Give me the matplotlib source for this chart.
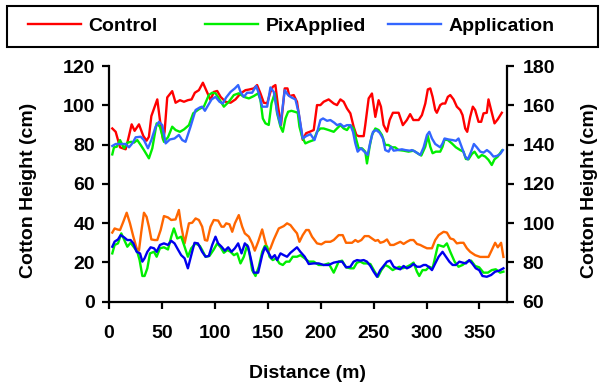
# -*- coding: utf-8 -*-
"""
Cotton height along the transect: Control / PixApplied / Application
"""

#_____________________________________________________
#IMPORTS

from matplotlib import pyplot as plt
from matplotlib.patches import Rectangle

#_____________________________________________________
#DATA

# upper group, left axis (cm)
control_x = [3.1, 6.3, 10.4, 15.7, 17.3, 21.4, 24.2, 28.3, 32.4, 35.5,
             37.7, 40.0, 45.6, 48.1, 51.0, 52.5, 55.0, 59.7, 62.9, 67.0,
             70.8, 74.5, 78.0, 81.1, 84.9, 88.7, 91.8, 95.9, 99.0, 102.2,
             105.4, 110.0, 114.8, 119.5, 124.2, 128.9, 132.0, 136.8, 139.9, 143.1,
             146.2, 149.4, 152.5, 154.7, 157.2, 159.7, 162.5, 166.0, 168.6, 170.4,
             174.5, 177.6, 179.9, 183.0, 186.2, 189.6, 193.4, 196.5, 199.7, 202.8,
             207.5, 212.3, 215.4, 218.6, 221.7, 224.8, 228.0, 231.1, 233.7, 235.8,
             240.6, 242.1, 245.3, 248.4, 251.6, 254.7, 256.9, 259.4, 262.6, 265.1,
             268.2, 273.6, 277.6, 281.4, 284.5, 287.5, 292.5, 295.6, 298.8, 301.2,
             303.5, 305.7, 308.2, 309.7, 312.9, 315.1, 317.6, 320.1, 322.4, 325.5,
             328.6, 331.8, 334.0, 336.5, 338.4, 341.2, 343.7, 345.9, 349.1, 351.6,
             353.8, 356.9, 358.5, 361.0, 364.2, 367.3, 371.1]
control_y = [88.2, 86.5, 78.6, 77.6, 80.9, 90.3, 87.0, 90.3, 84.4, 82.0,
             84.0, 94.5, 103.0, 92.5, 82.6, 86.5, 104.0, 107.2, 101.3, 102.6,
             101.8, 102.6, 103.0, 106.4, 107.7, 111.5, 107.7, 102.7, 106.8, 107.3,
             104.3, 101.8, 101.3, 103.0, 106.0, 107.7, 108.0, 108.6, 110.3, 106.0,
             101.3, 101.0, 106.8, 109.4, 110.3, 99.3, 90.0, 108.6, 108.6, 104.7,
             105.2, 101.8, 93.3, 82.4, 85.8, 86.5, 87.4, 100.1, 100.1, 101.8,
             103.0, 100.9, 100.1, 103.0, 101.8, 98.4, 95.9, 89.1, 84.9, 84.3,
             84.3, 90.0, 103.5, 106.0, 94.1, 102.6, 99.3, 90.0, 86.6, 92.5,
             96.2, 96.2, 89.9, 92.5, 95.5, 92.5, 92.5, 95.0, 100.9, 108.1,
             108.6, 104.3, 97.6, 96.2, 100.1, 100.9, 100.9, 104.3, 105.2, 103.0,
             99.3, 97.6, 95.0, 88.2, 86.5, 94.1, 99.3, 97.6, 91.6, 91.6,
             95.9, 96.2, 103.0, 97.6, 90.8, 92.9, 96.2]

pix_x = [3.1, 4.7, 7.3, 10.4, 14.2, 17.3, 21.1, 23.6, 26.7, 29.9,
         33.0, 37.7, 40.9, 45.0, 48.1, 51.9, 55.7, 59.7, 62.9, 67.0,
         70.8, 75.5, 79.5, 84.9, 89.6, 94.3, 97.5, 100.6, 103.8, 108.5,
         113.2, 117.9, 122.6, 127.4, 132.1, 136.8, 140.9, 143.1, 145.3, 147.8,
         150.9, 153.5, 156.6, 158.8, 162.0, 164.2, 166.7, 169.2, 172.3, 175.5,
         178.3, 179.9, 182.4, 185.5, 188.7, 193.4, 196.5, 199.7, 202.8, 207.5,
         212.3, 215.4, 218.6, 221.7, 224.8, 228.0, 231.1, 233.7, 235.8, 239.0,
         242.1, 243.7, 246.2, 248.4, 251.6, 254.7, 257.8, 260.9, 264.0, 267.2,
         270.3, 273.6, 278.3, 283.0, 287.7, 292.5, 295.0, 298.8, 301.2, 303.5,
         305.7, 308.8, 312.9, 315.1, 317.0, 320.1, 323.9, 327.7, 331.8, 334.9,
         337.1, 339.6, 342.8, 345.3, 349.1, 352.2, 355.4, 358.5, 361.6, 364.2,
         367.3, 371.1]
pix_y = [75.0, 78.6, 78.9, 82.3, 78.1, 81.0, 81.4, 81.0, 82.3, 79.8,
         77.2, 73.0, 78.1, 90.8, 89.1, 81.4, 83.7, 89.1, 87.4, 86.5,
         87.7, 89.9, 95.9, 98.0, 99.3, 105.2, 106.4, 106.1, 103.5, 99.3,
         101.8, 105.2, 106.1, 104.3, 103.5, 104.7, 106.1, 102.6, 93.3, 90.8,
         90.0, 101.0, 106.1, 95.9, 89.1, 86.5, 93.3, 96.7, 97.2, 96.7,
         96.2, 89.1, 84.0, 80.6, 81.4, 82.3, 86.5, 88.2, 88.2, 87.4,
         86.5, 88.2, 89.9, 88.2, 87.4, 89.9, 88.2, 82.3, 78.1, 78.1,
         76.4, 70.4, 78.9, 84.9, 88.2, 87.4, 84.9, 79.8, 79.8, 78.6,
         78.6, 77.2, 76.9, 76.4, 76.9, 75.2, 74.4, 78.9, 84.4, 78.9,
         75.6, 76.4, 76.4, 78.9, 82.6, 82.3, 80.6, 78.6, 77.2, 76.4,
         72.7, 72.5, 75.2, 76.4, 73.3, 74.7, 73.9, 72.2, 69.6, 72.5,
         73.9, 76.9]

appl_x = [3.1, 6.3, 11.0, 15.7, 18.9, 22.0, 25.2, 29.9, 33.0, 36.8,
          40.0, 44.0, 47.2, 50.3, 53.5, 57.5, 61.9, 66.0, 69.2, 72.3,
          77.0, 81.8, 85.8, 88.0, 90.6, 93.7, 96.9, 100.6, 104.4, 107.5,
          110.7, 114.8, 118.9, 122.0, 124.2, 127.4, 130.5, 135.2, 139.0, 141.5,
          144.7, 149.4, 152.5, 155.7, 158.8, 162.0, 166.0, 169.2, 172.3, 176.1,
          179.3, 183.0, 186.2, 190.3, 194.1, 197.2, 199.7, 202.2, 206.0, 209.1,
          212.9, 215.4, 218.6, 221.7, 224.8, 228.0, 230.5, 232.7, 234.9, 238.0,
          241.2, 244.3, 246.9, 249.4, 252.5, 255.7, 258.8, 261.0, 264.2, 266.4,
          268.9, 272.6, 276.7, 279.9, 284.0, 286.2, 289.3, 294.1, 297.2, 300.4,
          302.6, 305.1, 308.2, 312.9, 315.1, 317.0, 320.8, 324.5, 327.7, 330.2,
          333.3, 336.5, 339.0, 342.1, 344.7, 347.5, 350.7, 353.8, 357.0, 360.1,
          363.2, 366.4, 369.5, 372.1]
appl_y = [79.3, 80.3, 80.3, 80.3, 78.6, 80.6, 83.7, 84.0, 82.3, 78.1,
          82.3, 89.1, 91.6, 89.9, 80.6, 82.6, 83.1, 84.9, 82.3, 81.4,
          89.1, 97.6, 98.9, 99.3, 97.2, 100.1, 103.0, 104.3, 101.8, 100.9,
          104.0, 106.8, 108.6, 110.3, 106.8, 104.3, 106.4, 106.4, 109.8, 106.1,
          99.3, 99.3, 109.1, 106.8, 96.7, 90.0, 107.7, 105.2, 104.0, 103.0,
          95.9, 83.1, 84.3, 85.3, 82.3, 87.4, 92.5, 93.3, 92.1, 92.5,
          91.1, 89.9, 90.5, 89.1, 89.9, 89.9, 86.5, 80.6, 76.4, 78.1,
          76.4, 74.7, 81.4, 86.5, 87.4, 86.0, 83.1, 77.2, 76.4, 78.9,
          76.9, 77.2, 77.6, 77.2, 76.9, 77.2, 76.4, 74.7, 78.6, 84.9,
          86.5, 83.1, 80.3, 78.6, 80.6, 83.1, 82.6, 82.3, 81.9, 83.1,
          78.6, 73.9, 72.5, 76.4, 80.3, 78.6, 76.4, 75.9, 77.2, 75.9,
          73.9, 74.2, 75.2, 77.2]

# lower group, right axis (cm)
control2_x = [3.1, 5.3, 7.9, 10.4, 13.5, 16.7, 19.8, 23.0, 26.1, 28.3,
              30.5, 33.0, 35.5, 37.7, 40.0, 43.1, 45.6, 48.8, 51.9, 55.7,
              58.8, 62.9, 66.0, 68.2, 71.4, 75.5, 78.6, 81.8, 84.9, 88.0,
              90.6, 92.8, 95.9, 99.0, 103.1, 106.3, 108.5, 110.7, 113.8, 116.4,
              118.9, 122.6, 125.8, 128.3, 132.1, 135.2, 137.7, 140.9, 144.7, 147.2,
              150.3, 152.5, 155.7, 160.4, 165.1, 168.2, 171.4, 174.5, 177.6, 179.9,
              183.0, 186.2, 188.7, 191.8, 196.5, 200.6, 204.4, 209.1, 212.3, 217.0,
              220.8, 223.9, 229.6, 232.7, 235.2, 238.4, 241.5, 245.3, 248.4, 251.6,
              254.1, 256.3, 259.4, 262.6, 265.7, 268.9, 272.0, 275.2, 278.3, 281.4,
              284.6, 287.7, 290.9, 294.0, 297.2, 300.4, 305.1, 308.2, 311.4, 316.1,
              319.2, 322.4, 325.5, 328.6, 331.8, 334.9, 338.1, 341.2, 345.9, 350.7,
              355.4, 358.5, 361.6, 364.8, 367.3, 370.4, 372.6]
control2_y = [95.2, 97.3, 96.8, 96.5, 100.7, 105.3, 99.9, 93.1, 87.2, 86.0,
              95.6, 105.3, 103.2, 98.2, 91.7, 91.4, 91.4, 96.5, 103.6, 102.9,
              101.6, 101.9, 106.7, 98.5, 89.7, 99.9, 100.2, 102.4, 101.6, 98.2,
              91.4, 91.1, 98.2, 101.6, 101.3, 98.2, 98.2, 99.9, 99.4, 95.6,
              99.9, 104.1, 98.2, 94.8, 93.1, 89.7, 86.0, 90.5, 96.8, 91.4,
              85.4, 87.2, 91.7, 97.3, 98.5, 99.9, 99.0, 96.8, 94.8, 90.5,
              93.9, 96.5, 96.5, 93.1, 89.7, 89.2, 90.5, 90.5, 91.4, 93.9,
              93.9, 90.0, 90.0, 91.4, 90.5, 91.4, 93.4, 93.4, 92.2, 91.0,
              91.4, 90.0, 90.5, 91.7, 88.9, 88.9, 89.7, 90.5, 89.4, 90.5,
              91.4, 91.4, 89.4, 88.9, 88.0, 87.2, 87.2, 91.4, 93.9, 95.6,
              95.2, 92.2, 91.7, 89.7, 90.0, 90.0, 87.2, 85.4, 83.7, 82.8,
              82.8, 82.8, 86.3, 90.0, 87.7, 90.0, 82.8]

pix2_x = [3.1, 5.3, 8.5, 11.6, 14.2, 17.3, 20.4, 23.6, 26.7, 28.9,
          31.5, 33.6, 36.2, 38.7, 42.5, 45.0, 48.1, 51.9, 55.7, 58.8,
          61.3, 64.5, 68.2, 71.4, 74.5, 77.7, 81.8, 85.8, 88.0, 91.2,
          94.9, 99.0, 102.2, 105.4, 108.5, 111.7, 114.8, 118.0, 121.1, 124.2,
          127.4, 130.5, 132.7, 135.2, 138.4, 141.5, 144.7, 147.2, 149.4, 151.6,
          154.7, 157.9, 161.0, 164.2, 167.3, 170.4, 173.6, 177.6, 180.8, 184.9,
          188.7, 193.4, 198.1, 202.8, 207.5, 212.3, 217.0, 220.2, 224.0, 228.0,
          231.1, 234.3, 237.4, 240.6, 243.7, 246.9, 251.0, 254.1, 257.3, 261.0,
          264.2, 268.0, 271.1, 274.3, 277.4, 281.4, 284.6, 287.7, 290.9, 293.1,
          296.2, 299.4, 302.5, 305.7, 308.2, 310.8, 316.1, 319.2, 322.4, 326.5,
          330.2, 334.0, 338.1, 342.1, 345.9, 349.7, 353.8, 357.9, 361.6, 365.4,
          369.5, 372.6]
pix2_y = [84.6, 88.9, 89.7, 94.8, 91.7, 88.0, 90.0, 87.7, 85.4, 81.2,
          73.1, 73.1, 77.0, 84.6, 85.4, 82.9, 87.2, 87.7, 86.6, 93.1,
          97.3, 92.2, 93.1, 88.0, 82.9, 87.2, 89.7, 88.4, 86.3, 82.9,
          83.3, 86.6, 89.7, 87.7, 84.9, 86.3, 85.4, 83.7, 84.6, 79.5,
          82.9, 88.9, 84.6, 76.1, 73.1, 77.8, 85.4, 88.4, 88.0, 82.9,
          81.2, 82.1, 79.5, 78.7, 80.4, 80.4, 82.9, 82.9, 83.7, 82.1,
          80.4, 80.4, 78.7, 78.7, 79.5, 74.8, 80.4, 80.9, 77.5, 77.0,
          77.0, 79.9, 80.4, 79.5, 79.5, 79.2, 75.3, 72.7, 76.1, 78.7,
          77.8, 76.1, 77.0, 77.8, 77.0, 77.8, 78.7, 79.9, 75.3, 73.1,
          76.1, 76.1, 77.8, 77.0, 82.9, 88.9, 88.0, 89.7, 85.4, 80.4,
          77.8, 78.7, 80.4, 80.9, 78.2, 77.5, 74.8, 74.8, 76.1, 76.5,
          74.8, 75.3]

appl2_x = [3.1, 5.3, 8.5, 11.0, 14.2, 17.3, 20.4, 23.0, 26.1, 29.3,
           31.5, 33.6, 36.2, 39.3, 42.5, 45.0, 48.1, 51.9, 55.7, 58.8,
           61.9, 65.1, 68.2, 71.4, 74.5, 77.7, 80.8, 84.0, 88.0, 91.2,
           94.3, 97.5, 100.6, 103.1, 106.3, 109.4, 112.6, 115.7, 118.9, 122.0,
           125.2, 128.3, 131.4, 134.6, 136.8, 140.9, 144.7, 147.2, 151.0, 153.5,
           156.6, 158.8, 162.0, 165.1, 168.2, 171.4, 174.5, 177.6, 180.8, 184.9,
           188.7, 193.4, 198.1, 202.8, 207.5, 212.3, 217.0, 220.2, 224.0, 228.0,
           231.1, 234.3, 237.4, 240.6, 243.7, 246.9, 250.0, 253.2, 256.3, 259.4,
           262.6, 265.7, 268.9, 272.0, 275.2, 278.3, 281.4, 284.6, 287.7, 290.9,
           294.0, 297.2, 299.4, 301.9, 305.1, 308.2, 311.4, 315.1, 318.3, 321.5,
           324.6, 327.7, 330.9, 334.0, 337.2, 340.3, 343.5, 346.5, 349.7, 352.8,
           356.9, 361.0, 364.8, 368.6, 372.6]
appl2_y = [88.0, 90.6, 91.7, 93.9, 92.8, 91.4, 91.4, 89.7, 85.4, 84.6,
           80.4, 82.1, 85.4, 87.7, 87.2, 85.4, 88.9, 89.7, 88.9, 91.0,
           89.7, 86.6, 83.7, 82.1, 77.0, 83.7, 90.0, 89.7, 85.4, 82.9,
           83.3, 88.9, 93.1, 89.7, 88.0, 86.0, 87.7, 85.4, 87.2, 89.7,
           84.6, 89.7, 88.0, 80.4, 74.8, 74.8, 83.7, 87.7, 84.6, 82.1,
           83.7, 81.2, 84.6, 83.7, 82.9, 84.9, 86.3, 87.7, 85.4, 82.9,
           79.2, 79.5, 79.5, 78.7, 78.7, 79.9, 80.4, 80.4, 77.5, 77.8,
           80.4, 81.2, 80.9, 81.2, 80.4, 78.2, 75.3, 72.7, 76.1, 78.2,
           80.4, 80.9, 77.8, 77.0, 76.5, 78.2, 77.0, 77.8, 79.2, 77.8,
           77.8, 78.7, 78.7, 77.8, 76.1, 79.5, 82.9, 85.4, 82.9, 80.4,
           78.7, 78.7, 80.4, 79.9, 79.5, 81.2, 79.2, 77.0, 76.1, 73.1,
           72.7, 73.6, 75.3, 75.8, 77.0]

x_ticks = [0, 50, 100, 150, 200, 250, 300, 350]
left_ticks = [0, 20, 40, 60, 80, 100, 120]
right_ticks = [60, 80, 100, 120, 140, 160, 180]

legend_names = ['Control', 'PixApplied', 'Application']

#_____________________________________________________
#PLOT

plt.rcParams['font.family'] = ['Liberation Sans', 'DejaVu Sans']
plt.rcParams['font.weight'] = 'bold'
plt.rcParams['font.size'] = 14

fig = plt.figure(figsize=(6.08, 3.89), dpi=100)
ax = fig.add_axes([0.1793, 0.2244, 0.6546, 0.6059])
ax2 = ax.twinx()

lw = 1.7
l1, = ax.plot(control_x, control_y, color='#FF0000', lw=lw)
l2, = ax.plot(pix_x, pix_y, color='#00EE00', lw=lw)
l3, = ax.plot(appl_x, appl_y, color='#3366FF', lw=lw)
ax2.plot(control2_x, control2_y, color='#FF6600', lw=lw)
ax2.plot(pix2_x, pix2_y, color='#00EE00', lw=lw)
ax2.plot(appl2_x, appl2_y, color='#0000EE', lw=lw)

ax.set_xlim(0, 376)
ax.set_ylim(0, 120)
ax2.set_ylim(60, 180)
ax.set_xticks(x_ticks)
ax.set_yticks(left_ticks)
ax2.set_yticks(right_ticks)

for a in (ax, ax2):
    a.spines['top'].set_visible(False)
    for s in a.spines.values():
        s.set_linewidth(1.6)
    a.tick_params(direction='out', length=5, width=1.6, labelsize=14, pad=5)
ax.tick_params(axis='x', pad=12)
ax2.tick_params(axis='y', pad=6)
ax.spines['right'].set_visible(False)
ax2.spines['left'].set_visible(False)
ax2.spines['bottom'].set_visible(False)

ax.set_xlabel('Distance (m)', fontsize=14, fontweight='bold')
ax.set_ylabel('Cotton Height (cm)', fontsize=14, fontweight='bold')
ax2.set_ylabel('Cotton Height (cm)', fontsize=14, fontweight='bold', rotation=90)
ax.xaxis.set_label_coords(0.499, -0.27)
ax.yaxis.set_label_coords(-0.182, 0.474)
ax2.yaxis.set_label_coords(1.186, 0.474)

# legend box across the top, entries spread out like the original
fig.patches.append(Rectangle((0.0115, 0.879), 0.972, 0.106, transform=fig.transFigure,
                             fill=False, edgecolor='black', lw=1.5))
entry_left = [28 / 608, 205 / 608, 388 / 608]
for handle, name, xl in zip([l1, l2, l3], legend_names, entry_left):
    fig.legend([handle], [name], loc='center left', bbox_to_anchor=(xl, 0.932),
               frameon=False, fontsize=14, borderpad=0, borderaxespad=0,
               handlelength=2.7, handletextpad=0.4)

plt.savefig('out.png', dpi=100)
